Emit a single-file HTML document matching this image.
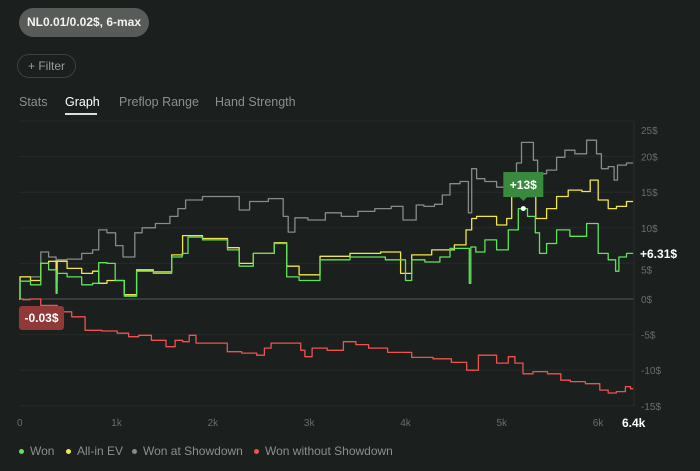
<!DOCTYPE html>
<html><head><meta charset="utf-8"><style>
body{margin:0;background:#1b1f1d;width:700px;height:471px;overflow:hidden;font-family:"Liberation Sans",sans-serif;position:relative}
.pill{position:absolute;left:19px;top:8px;width:130px;height:29px;border-radius:15px;background:#585b58;color:#f2f2f2;font-size:12px;font-weight:bold;line-height:29px;text-align:center;white-space:nowrap}
.filter{position:absolute;left:17px;top:54px;width:57px;height:22px;border:1px solid #3d413e;border-radius:12px;color:#9a9d9a;font-size:12px;line-height:22px;text-align:center}
.tab{position:absolute;top:95px;font-size:12.5px;color:#8c8f8c}
.leg{position:absolute;top:444px;font-size:12px;color:#8c8f8c}
.leg i{display:inline-block;width:5px;height:5px;border-radius:50%;margin-right:6px;vertical-align:middle}
</style></head><body>
<div class="pill">NL0.01/0.02$, 6-max</div>
<div class="filter">+ Filter</div>
<div class="tab" style="left:19px">Stats</div>
<div class="tab" style="left:65px;color:#fff">Graph</div>
<div style="position:absolute;left:65px;top:113px;width:32px;height:2px;background:#ddd"></div>
<div class="tab" style="left:119px">Preflop Range</div>
<div class="tab" style="left:215px">Hand Strength</div>
<svg id="chart" width="700" height="471" style="position:absolute;left:0;top:0"></svg>
<div class="leg" style="left:19px"><i style="background:#5fe35a"></i>Won</div>
<div class="leg" style="left:66px"><i style="background:#f1e74a"></i>All-in EV</div>
<div class="leg" style="left:132px"><i style="background:#8a8a8a"></i>Won at Showdown</div>
<div class="leg" style="left:254px"><i style="background:#ee5350"></i>Won without Showdown</div>
<script>
const yTicks=[25,20,15,10,5,0,-5,-10,-15];
const xTicks=[0,1000,2000,3000,4000,5000,6000];
const xTickLabels=["0","1k","2k","3k","4k","5k","6k"];
const wonX=[0,20,218,235,380,391,400,599,703,825,831,997,1000,1187,1256,1533,1638,1750,1759,2053,2278,2295,2572,2728,2831,2987,3264,3610,4000,4026,4130,4300,4442,4510,4670,4683,4700,4786,4891,5029,5133,5237,5323,5400,5410,5548,5617,5825,5963,6066,6170,6220,6239,6377];
const wonY=[0,2.5,2.0,5.0,4.1,0.8,3.6,3.1,2.0,2.2,5.1,5.0,2.6,0.4,3.9,3.6,5.9,6.4,8.7,8.3,6.9,4.6,6.4,7.8,3.1,2.6,5.5,5.9,5.5,2.6,5.5,5.2,5.9,7.1,7.1,2.2,7.3,6.6,8.3,6.9,9.7,12.7,11.6,9.3,6.4,7.8,9.7,8.8,10.6,6.4,5.5,3.9,5.9,6.4];
const evX=[0,20,218,235,380,391,400,599,703,825,831,997,1187,1256,1533,1638,1759,2053,2278,2295,2572,2728,2831,2987,3264,3610,3900,4026,4130,4442,4600,4683,4718,4786,4891,5029,5100,5133,5237,5323,5410,5548,5617,5790,5900,5963,6066,6170,6239,6377];
const evY=[0,3.1,2.6,5.0,5.3,2.5,5.3,4.3,3.6,3.9,2.2,2.6,0.6,4.1,3.8,6.2,8.9,8.5,7.2,5.0,6.4,7.9,4.6,3.4,6.0,6.4,6.6,3.6,6.2,6.9,7.6,9.7,11.3,11.6,11.6,10.4,11.3,14.4,14.6,14.4,11.3,12.7,14.4,15.3,15.1,16.7,13.9,12.7,13.0,13.7];
const sdX=[0,20,218,235,380,391,400,599,703,825,831,997,1010,1150,1256,1300,1533,1600,1700,1759,2053,2278,2295,2340,2450,2728,2760,2831,2900,3100,3264,3430,3610,3780,3950,4026,4120,4130,4280,4350,4442,4510,4650,4683,4718,4786,4891,5029,5133,5200,5237,5323,5360,5410,5548,5617,5720,5825,5963,6030,6066,6170,6190,6239,6377];
const sdY=[0,3.1,3.1,6.6,5.9,3.1,5.5,5.6,6.4,6.9,9.7,9.3,7.5,5.9,9.3,10.0,10.6,11.6,12.7,13.9,14.4,14.4,12.5,12.5,13.7,14.1,11.6,9.4,11.4,11.1,12.1,11.6,12.3,12.7,13.0,11.1,11.1,13.2,13.0,13.3,14.6,16.2,16.5,12.1,18.3,16.9,16.5,15.7,16.0,19.1,22.0,22.0,19.5,17.6,18.1,19.9,20.9,20.4,22.3,20.4,18.3,18.6,16.7,18.8,19.1];
const nsdX=[0,80,150,300,495,600,772,950,1090,1187,1300,1450,1602,1640,1760,1775,1900,2100,2226,2400,2537,2560,2676,2900,2950,2987,3100,3300,3437,3560,3700,3956,4200,4400,4580,4718,4822,4891,5029,5133,5167,5300,5376,5600,5652,5800,5963,6100,6136,6270,6323,6377];
const nsdY=[0,-0.1,0,-0.9,-1.8,-2.5,-4.4,-4.5,-4.8,-5.3,-5.1,-5.8,-6.7,-5.8,-6.0,-5.1,-6.2,-6.2,-7.4,-7.6,-7.9,-6.9,-6.2,-6.2,-7.2,-8.1,-6.9,-7.2,-6.0,-6.4,-6.9,-7.5,-8.2,-8.4,-8.9,-10.0,-7.9,-7.9,-9.0,-8.1,-9.0,-10.5,-10.2,-10.5,-11.4,-11.6,-11.9,-12.8,-13.2,-13.0,-12.3,-12.6];
const NS='http://www.w3.org/2000/svg';
const svg=document.getElementById('chart');
const X=h=>19+h*0.0963, Y=v=>299-v*7.12;
function mk(t,a){const e=document.createElementNS(NS,t);for(const k in a)e.setAttribute(k,a[k]);svg.appendChild(e);return e;}
yTicks.forEach(v=>{
  const g=mk('line',{x1:19,x2:634,y1:Y(v),y2:Y(v),stroke:v===0?'#4a4e4b':'#262a28','stroke-width':v===0?1.2:1});
  
  
  if(v===5)return;
  const t=mk('text',{x:641,y:Y(v)+(v===25?13:4),fill:'#6a6d6a','font-size':10});
  t.textContent=v+'$';
  
  
});
const t5=mk('text',{x:641,y:Y(5)+10,fill:'#6a6d6a','font-size':10});t5.textContent='5$';


const ax=mk('line',{x1:634,x2:634,y1:122,y2:406,stroke:'#2a2e2c'});


xTicks.forEach((h,i)=>{
  const t=mk('text',{x:X(h)+(i===0?-2:-4),y:426,fill:'#6a6d6a','font-size':10});
  t.textContent=xTickLabels[i];
  
  
});
function line(xs,ys,c,name){
  let pts=[];
  xs.forEach((h,i)=>{
    if(i>0){const mx=(X(xs[i-1])+X(h))/2;pts.push(mx.toFixed(1)+','+Y(ys[i-1]).toFixed(1));pts.push(mx.toFixed(1)+','+Y(ys[i]).toFixed(1));}
    pts.push(X(h).toFixed(1)+','+Y(ys[i]).toFixed(1));
  });
  const p=mk('polyline',{points:pts.join(' '),fill:'none',stroke:c,'stroke-width':1.3,'stroke-linejoin':'round'});
  
  
}
line(sdX,sdY,'#8a8a8a','won-at-showdown-line');
line(nsdX,nsdY,'#ee5350','won-without-showdown-line');
line(evX,evY,'#f1e74a','allin-ev-line');
line(wonX,wonY,'#5fe35a','won-line');
const dot=mk('circle',{cx:X(5237),cy:Y(12.7),r:2.5,fill:'#fff'});


const tb=mk('path',{d:`M${X(5237)-20} 172 h40 v25 h-16 l-4 4 l-4 -4 h-16 z`,fill:'#3a8a3e'});


const tt=mk('text',{x:X(5237),y:189,fill:'#fff','font-size':12,'font-weight':'bold','text-anchor':'middle'});tt.textContent='+13$';


const rb=mk('rect',{x:19,y:306,width:45,height:24,rx:3,fill:'#913838'});


const rt=mk('text',{x:41.5,y:322,fill:'#fff','font-size':12,'font-weight':'bold','text-anchor':'middle'});rt.textContent='-0.03$';


const ft=mk('text',{x:640,y:258,fill:'#fff','font-size':12,'font-weight':'bold'});ft.textContent='+6.31$';


const xt=mk('text',{x:622,y:427,fill:'#fff','font-size':12,'font-weight':'bold'});xt.textContent='6.4k';


</script>
</body></html>
